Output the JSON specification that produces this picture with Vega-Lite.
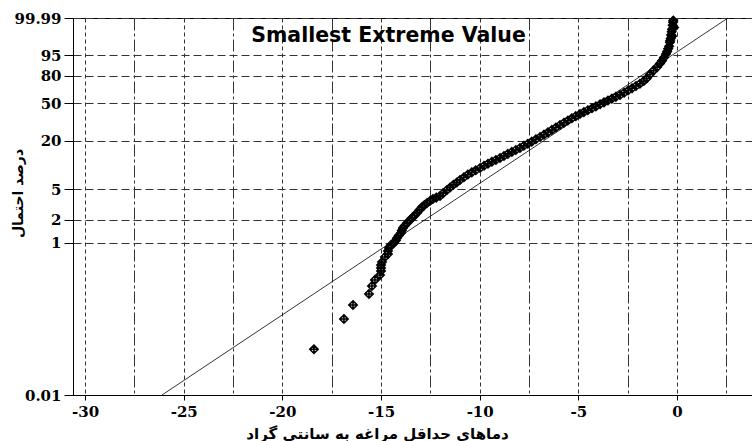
{
  "$schema": "https://vega.github.io/schema/vega-lite/v6.json",
  "width": 679,
  "height": 377,
  "autosize": {"type": "none"},
  "padding": {"left": 73, "top": 18, "right": 0, "bottom": 46},
  "background": "white",
  "title": {"text": "Smallest Extreme Value", "font": "DejaVu Sans", "fontSize": 20.5, "fontWeight": "bold", "color": "black", "anchor": "middle", "offset": -35, "dx": -24},
  "config": {"view": {"stroke": "black", "strokeWidth": 1}},
  "layer": [
    {
      "data": {"values": [
        {"temp": -18.40, "prob": 0.040}, {"temp": -16.88, "prob": 0.100}, {"temp": -16.42, "prob": 0.153},
        {"temp": -15.61, "prob": 0.214}, {"temp": -15.46, "prob": 0.272}, {"temp": -15.31, "prob": 0.327},
        {"temp": -15.05, "prob": 0.380}, {"temp": -15.00, "prob": 0.429}, {"temp": -15.00, "prob": 0.469},
        {"temp": -15.00, "prob": 0.514}, {"temp": -14.95, "prob": 0.563}, {"temp": -14.80, "prob": 0.655},
        {"temp": -14.65, "prob": 0.717}, {"temp": -14.65, "prob": 0.784}, {"temp": -14.60, "prob": 0.859},
        {"temp": -14.50, "prob": 0.941}, {"temp": -14.34, "prob": 1.00}, {"temp": -14.25, "prob": 1.08},
        {"temp": -14.19, "prob": 1.16}, {"temp": -14.10, "prob": 1.25}, {"temp": -13.99, "prob": 1.35},
        {"temp": -13.95, "prob": 1.45}, {"temp": -13.89, "prob": 1.57}, {"temp": -13.80, "prob": 1.68},
        {"temp": -13.68, "prob": 1.82}, {"temp": -13.55, "prob": 1.97}, {"temp": -13.43, "prob": 2.12},
        {"temp": -13.30, "prob": 2.28}, {"temp": -13.18, "prob": 2.46}, {"temp": -13.05, "prob": 2.70},
        {"temp": -12.92, "prob": 2.95}, {"temp": -12.80, "prob": 3.12}, {"temp": -12.67, "prob": 3.32},
        {"temp": -12.52, "prob": 3.52}, {"temp": -12.37, "prob": 3.74}, {"temp": -12.20, "prob": 3.90},
        {"temp": -12.01, "prob": 4.09}, {"temp": -11.85, "prob": 4.45}, {"temp": -11.66, "prob": 4.89},
        {"temp": -11.50, "prob": 5.25}, {"temp": -11.33, "prob": 5.7}, {"temp": -11.16, "prob": 6.1},
        {"temp": -11.00, "prob": 6.56}, {"temp": -10.80, "prob": 7.1}, {"temp": -10.60, "prob": 7.7},
        {"temp": -10.40, "prob": 8.2}, {"temp": -10.20, "prob": 8.7}, {"temp": -9.98, "prob": 9.3},
        {"temp": -9.78, "prob": 9.9}, {"temp": -9.58, "prob": 10.5}, {"temp": -9.38, "prob": 11.1},
        {"temp": -9.18, "prob": 11.7}, {"temp": -8.97, "prob": 12.37}, {"temp": -8.77, "prob": 13.1},
        {"temp": -8.57, "prob": 13.9}, {"temp": -8.37, "prob": 14.7}, {"temp": -8.17, "prob": 15.5},
        {"temp": -7.96, "prob": 16.38}, {"temp": -7.76, "prob": 17.4}, {"temp": -7.56, "prob": 18.4},
        {"temp": -7.36, "prob": 19.5}, {"temp": -7.15, "prob": 20.8}, {"temp": -6.94, "prob": 22.08},
        {"temp": -6.74, "prob": 23.5}, {"temp": -6.54, "prob": 25.0}, {"temp": -6.34, "prob": 26.6},
        {"temp": -6.14, "prob": 28.3}, {"temp": -5.93, "prob": 30.17}, {"temp": -5.73, "prob": 31.9},
        {"temp": -5.53, "prob": 33.7}, {"temp": -5.33, "prob": 35.6}, {"temp": -5.13, "prob": 37.5},
        {"temp": -4.92, "prob": 39.44}, {"temp": -4.72, "prob": 41.2}, {"temp": -4.52, "prob": 43.0},
        {"temp": -4.31, "prob": 44.9}, {"temp": -4.11, "prob": 46.8}, {"temp": -3.90, "prob": 49.0},
        {"temp": -3.70, "prob": 51.0}, {"temp": -3.50, "prob": 53.0}, {"temp": -3.30, "prob": 55.0},
        {"temp": -3.10, "prob": 57.0}, {"temp": -2.89, "prob": 59.0}, {"temp": -2.68, "prob": 61.5},
        {"temp": -2.48, "prob": 64.0}, {"temp": -2.28, "prob": 66.5}, {"temp": -2.08, "prob": 69.0},
        {"temp": -1.88, "prob": 71.5}, {"temp": -1.68, "prob": 74.5}, {"temp": -1.54, "prob": 77.0},
        {"temp": -1.37, "prob": 81.0}, {"temp": -1.20, "prob": 84.5}, {"temp": -1.01, "prob": 87.5},
        {"temp": -0.86, "prob": 90.2}, {"temp": -0.76, "prob": 92.0}, {"temp": -0.66, "prob": 93.8},
        {"temp": -0.56, "prob": 95.5}, {"temp": -0.50, "prob": 96.4}, {"temp": -0.45, "prob": 97.3},
        {"temp": -0.40, "prob": 98.0}, {"temp": -0.36, "prob": 98.8}, {"temp": -0.32, "prob": 99.3},
        {"temp": -0.30, "prob": 99.6}, {"temp": -0.27, "prob": 99.77}, {"temp": -0.25, "prob": 99.86},
        {"temp": -0.22, "prob": 99.94}, {"temp": -0.20, "prob": 99.97}, {"temp": -0.19, "prob": 99.98},
        {"temp": -0.15, "prob": 99.9}, {"temp": -0.25, "prob": 99.5}, {"temp": -0.35, "prob": 99.0}
      ]},
      "transform": [{"calculate": "log(-log(1 - datum.prob / 100))", "as": "z"}],
      "mark": {"type": "point", "shape": "M0,-1L1,0L0,1L-1,0ZM0,-1L0,1M-1,0L1,0", "filled": false, "stroke": "black", "strokeWidth": 1.6, "size": 70, "opacity": 1},
      "encoding": {
        "x": {"field": "temp", "type": "quantitative",
          "scale": {"domain": [-30.61, 3.8], "nice": false, "zero": false},
          "axis": {
            "title": "دماهای حداقل مراغه به سانتی گراد",
            "titleFont": "DejaVu Sans", "titleFontSize": 15, "titleFontWeight": "bold", "titleColor": "black",
            "titleX": 304, "titleY": 38, "titleBaseline": "middle", "titleAnchor": "middle",
            "values": [-30, -27.5, -25, -22.5, -20, -17.5, -15, -12.5, -10, -7.5, -5, -2.5, 0, 2.5],
            "labelExpr": "datum.value % 5 === 0 ? '' + datum.value : ''",
            "labelFont": "DejaVu Serif", "labelFontSize": 15, "labelFontWeight": "bold", "labelColor": "black",
            "labelPadding": 4, "labelOverlap": false,
            "domainColor": "black", "domainWidth": 1,
            "tickSize": 5, "tickColor": "black",
            "tickOpacity": {"condition": {"test": "datum.value % 5 === 0", "value": 1}, "value": 0},
            "grid": true, "gridColor": "#333333", "gridWidth": 1, "gridOpacity": 1,
            "gridDash": {"condition": {"test": "datum.value % 5 === 0", "value": [4, 3]}, "value": [12, 3, 3, 3]}
          }
        },
        "y": {"field": "z", "type": "quantitative",
          "scale": {"domain": [-9.21029, 2.220327], "nice": false, "zero": false},
          "axis": {
            "title": "درصد احتمال",
            "titleFont": "DejaVu Sans", "titleFontSize": 14, "titleFontWeight": "bold", "titleColor": "black",
            "titleX": -55, "titleY": 175, "titleAngle": -90, "titleBaseline": "middle", "titleAnchor": "middle",
            "values": [-9.21029, -4.60015, -3.90194, -2.97020, -1.49994, -0.366513, 0.475885, 1.097189, 2.220327],
            "labelExpr": "format((1 - exp(-exp(datum.value))) * 100, '.4~r')",
            "labelFont": "DejaVu Serif", "labelFontSize": 15, "labelFontWeight": "bold", "labelColor": "black",
            "labelPadding": 3, "labelOverlap": false,
            "domainColor": "black", "domainWidth": 1,
            "tickSize": 9, "tickColor": "black",
            "grid": true, "gridColor": "#333333", "gridWidth": 1, "gridOpacity": 1, "gridDash": [8, 4]
          }
        }
      }
    },
    {
      "data": {"values": [{"temp": -26.1, "prob": 0.01}, {"temp": 2.58, "prob": 99.99}]},
      "transform": [{"calculate": "log(-log(1 - datum.prob / 100))", "as": "z"}],
      "mark": {"type": "line", "color": "black", "strokeWidth": 0.8},
      "encoding": {
        "x": {"field": "temp", "type": "quantitative"},
        "y": {"field": "z", "type": "quantitative"}
      }
    }
  ]
}
